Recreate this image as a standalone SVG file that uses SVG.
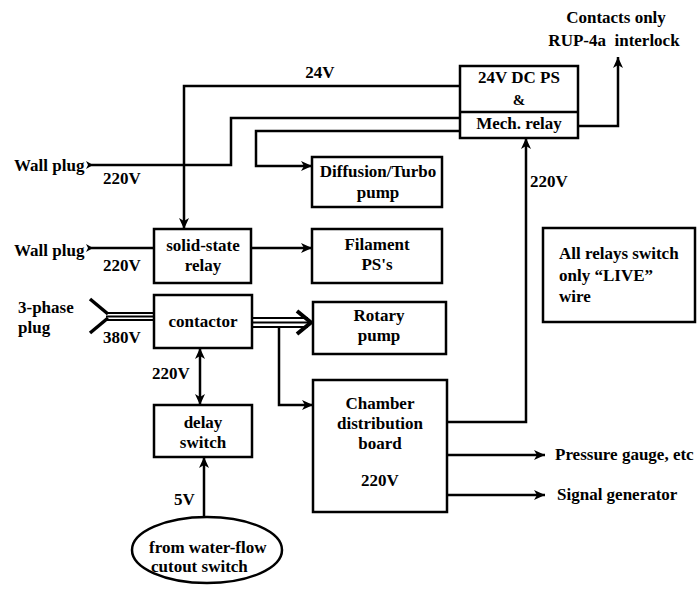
<svg xmlns="http://www.w3.org/2000/svg" width="698" height="590" viewBox="0 0 698 590">
<style>
text{font-family:"Liberation Serif","Times New Roman",serif;font-weight:bold;font-size:17px;fill:#000}
.c{text-anchor:middle}
.box{fill:#fff;stroke:#000;stroke-width:2.5}
.w{fill:none;stroke:#000;stroke-width:2.5}
.t{fill:none;stroke:#000;stroke-width:2}
</style>
<defs>
<marker id="arr" markerUnits="userSpaceOnUse" markerWidth="12" markerHeight="10" refX="11" refY="5" orient="auto-start-reverse" viewBox="0 0 12 10">
<path d="M0,0 L11,5 L0,10 L3,5 z" fill="#000"/>
</marker>
</defs>
<rect width="698" height="590" fill="#fff"/>

<g id="connectors">
<polyline class="w" points="460,86 184,86 184,229" marker-end="url(#arr)"/>
<polyline class="w" points="90,165 231,165 231,118 460,118"/>
<path d="M86,161 L93,165 L86,169 L88,165 z" fill="#000"/>
<polyline class="w" points="460,131 256,131 256,166 312,166" marker-end="url(#arr)"/>
<polyline class="w" points="578,126 618,126 618,57" marker-end="url(#arr)"/>
<line class="w" x1="90" y1="248" x2="154" y2="248"/>
<path d="M86,244 L93,248 L86,252 L88,248 z" fill="#000"/>
<line class="w" x1="251" y1="248" x2="312" y2="248" marker-end="url(#arr)"/>
<line x1="90" y1="299" x2="108" y2="314" stroke="#000" stroke-width="3.5"/>
<line x1="90" y1="333" x2="108" y2="318" stroke="#000" stroke-width="3.5"/>
<line class="t" x1="106" y1="313" x2="154" y2="313"/>
<line class="t" x1="106" y1="316.5" x2="154" y2="316.5"/>
<line class="t" x1="106" y1="320" x2="154" y2="320"/>
<line class="t" x1="252" y1="318" x2="308" y2="318"/>
<line class="t" x1="252" y1="322.5" x2="310" y2="322.5"/>
<line class="t" x1="252" y1="327" x2="308" y2="327"/>
<polyline points="297,311 311,322.5 297,334" fill="none" stroke="#000" stroke-width="4"/>
<polyline class="w" points="279,327 279,405 313,405" marker-end="url(#arr)"/>
<line class="w" x1="200" y1="348" x2="200" y2="405" marker-start="url(#arr)" marker-end="url(#arr)"/>
<line class="w" x1="204" y1="517" x2="204" y2="457" marker-end="url(#arr)"/>
<polyline class="w" points="447,422 526,422 526,138" marker-end="url(#arr)"/>
<line class="w" x1="447" y1="455" x2="545" y2="455" marker-end="url(#arr)"/>
<line class="w" x1="447" y1="495" x2="545" y2="495" marker-end="url(#arr)"/>
</g>

<g id="label-24v"><text class="c" x="320" y="78">24V</text></g>
<g id="interlock">
<text class="c" x="616" y="23">Contacts only</text>
<text class="c" x="614" y="46">RUP-4a&#160; interlock</text>
</g>
<g id="ps24">
<rect class="box" x="460" y="66" width="118" height="72"/>
<line class="w" x1="460" y1="112" x2="578" y2="112"/>
<text class="c" x="519" y="83">24V DC PS</text>
<text class="c" x="519" y="105" style="font-size:15px">&amp;</text>
<text class="c" x="519" y="129">Mech. relay</text>
</g>
<g id="wallplug1">
<text x="14" y="171">Wall plug</text>
<text x="103" y="184">220V</text>
</g>
<g id="wallplug2">
<text x="14" y="256">Wall plug</text>
<text x="103" y="271">220V</text>
</g>
<g id="diffusion">
<rect class="box" x="312" y="157" width="130" height="50"/>
<text class="c" x="378" y="177">Diffusion/Turbo</text>
<text class="c" x="378" y="198">pump</text>
</g>
<g id="label-220v-top"><text x="530" y="187">220V</text></g>
<g id="ssr">
<rect class="box" x="154" y="229" width="97" height="54"/>
<text class="c" x="203" y="251">solid-state</text>
<text class="c" x="203" y="271">relay</text>
</g>
<g id="filament">
<rect class="box" x="312" y="229" width="130" height="54"/>
<text class="c" x="377" y="250">Filament</text>
<text class="c" x="377" y="270">PS's</text>
</g>
<g id="note">
<rect class="box" x="543" y="228" width="152" height="94"/>
<text x="559" y="259">All relays switch</text>
<text x="559" y="281">only “LIVE”</text>
<text x="559" y="302">wire</text>
</g>
<g id="plug3">
<text x="18" y="313">3-phase</text>
<text x="18" y="333">plug</text>
<text x="103" y="343">380V</text>
</g>
<g id="contactor">
<rect class="box" x="154" y="295" width="98" height="53"/>
<text class="c" x="203" y="327">contactor</text>
</g>
<g id="rotary">
<rect class="box" x="313" y="302" width="133" height="52"/>
<text class="c" x="379" y="321">Rotary</text>
<text class="c" x="379" y="341">pump</text>
</g>
<g id="label-220v-mid"><text x="152" y="379">220V</text></g>
<g id="delay">
<rect class="box" x="154" y="405" width="98" height="52"/>
<text class="c" x="203" y="428">delay</text>
<text class="c" x="203" y="448">switch</text>
</g>
<g id="chamber">
<rect class="box" x="313" y="380" width="134" height="132"/>
<text class="c" x="380" y="409">Chamber</text>
<text class="c" x="380" y="429">distribution</text>
<text class="c" x="380" y="449">board</text>
<text class="c" x="380" y="486">220V</text>
</g>
<g id="outputs">
<text x="555" y="460">Pressure gauge, etc</text>
<text x="557" y="500">Signal generator</text>
</g>
<g id="label-5v"><text x="174" y="505">5V</text></g>
<g id="waterflow">
<ellipse cx="207" cy="550" rx="75" ry="33" fill="#fff" stroke="#000" stroke-width="2.5"/>
<text x="149" y="553">from water-flow</text>
<text x="151" y="572">cutout switch</text>
</g>
</svg>
